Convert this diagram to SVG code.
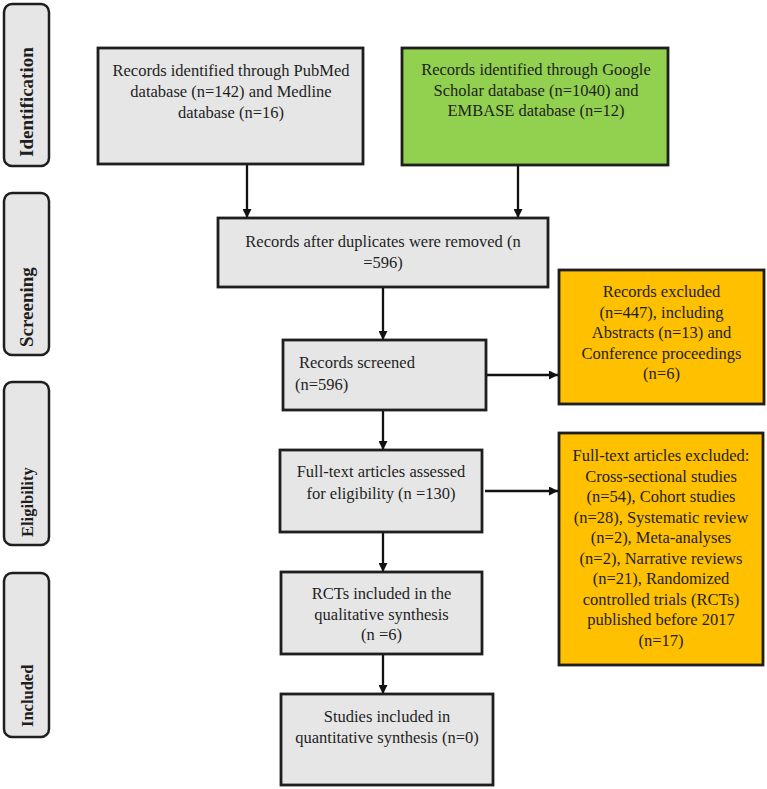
<svg xmlns="http://www.w3.org/2000/svg" width="767" height="789" viewBox="0 0 767 789">
<defs>
<style>
.box{stroke:#1e1e1e;stroke-width:2.8;}
.gray{fill:#e6e6e6;}
.green{fill:#92d050;}
.orange{fill:#ffc000;}
.tab{fill:#e6e6e6;stroke:#1e1e1e;stroke-width:2.5;}
.t{font-family:"Liberation Serif","Times New Roman",serif;font-size:16.5px;fill:#1e1e1e;text-anchor:middle;}
.tl{font-family:"Liberation Serif","Times New Roman",serif;font-size:16.5px;fill:#1e1e1e;}
.tabt{font-family:"Liberation Serif","Times New Roman",serif;font-weight:bold;fill:#1e1e1e;}
.conn{stroke:#111;stroke-width:2.3;fill:none;marker-end:url(#arr);}
</style>
<marker id="arr" viewBox="0 0 10 10" refX="10" refY="5" markerWidth="9" markerHeight="9" markerUnits="userSpaceOnUse" orient="auto">
<path d="M0,0 L10,5 L0,10 z" fill="#111"/>
</marker>
</defs>
<rect width="767" height="789" fill="#ffffff"/>

<g id="tab-identification">
<rect class="tab" x="4" y="4" width="45" height="162" rx="8"/>
<text class="tabt" font-size="19" transform="translate(33,157) rotate(-90)">Identification</text>
</g>
<g id="tab-screening">
<rect class="tab" x="4" y="193" width="45" height="162" rx="8"/>
<text class="tabt" font-size="19" transform="translate(33,347) rotate(-90)">Screening</text>
</g>
<g id="tab-eligibility">
<rect class="tab" x="4" y="382" width="45" height="163" rx="8"/>
<text class="tabt" font-size="16.5" transform="translate(33,537) rotate(-90)">Eligibility</text>
</g>
<g id="tab-included">
<rect class="tab" x="4" y="573" width="45" height="164" rx="8"/>
<text class="tabt" font-size="16.5" transform="translate(33,727) rotate(-90)">Included</text>
</g>

<g id="connectors">
<line class="conn" x1="247" y1="165" x2="247" y2="218"/>
<line class="conn" x1="518" y1="166" x2="518" y2="218"/>
<line class="conn" x1="383" y1="288" x2="383" y2="340"/>
<line class="conn" x1="383" y1="411" x2="383" y2="450"/>
<line class="conn" x1="383" y1="533" x2="383" y2="572"/>
<line class="conn" x1="383" y1="655" x2="383" y2="694"/>
<line class="conn" x1="483" y1="375" x2="558" y2="375"/>
<line class="conn" x1="485" y1="491" x2="558" y2="491"/>
</g>

<g id="pubmed">
<rect class="box gray" x="98" y="48" width="265" height="116"/>
<text class="t" x="231" y="76">Records identified through PubMed</text>
<text class="t" x="231" y="97">database (n=142) and Medline</text>
<text class="t" x="231" y="118">database (n=16)</text>
</g>
<g id="google">
<rect class="box green" x="402" y="48" width="266" height="117"/>
<text class="t" x="536" y="75">Records identified through Google</text>
<text class="t" x="536" y="96">Scholar database (n=1040) and</text>
<text class="t" x="536" y="116">EMBASE database (n=12)</text>
</g>
<g id="duplicates">
<rect class="box gray" x="218" y="218" width="330" height="69"/>
<text class="t" x="383" y="247">Records after duplicates were removed (n</text>
<text class="t" x="383" y="268">=596)</text>
</g>
<g id="screened">
<rect class="box gray" x="283" y="340" width="203" height="70"/>
<text class="tl" x="299" y="368">Records screened</text>
<text class="tl" x="295" y="390">(n=596)</text>
</g>
<g id="excluded1">
<rect class="box orange" x="559" y="270" width="205" height="134"/>
<text class="t" x="661.5" y="297">Records excluded</text>
<text class="t" x="661.5" y="317.5">(n=447), including</text>
<text class="t" x="661.5" y="338">Abstracts (n=13) and</text>
<text class="t" x="661.5" y="358.5">Conference proceedings</text>
<text class="t" x="661.5" y="379">(n=6)</text>
</g>
<g id="fulltext">
<rect class="box gray" x="280" y="450" width="202" height="82"/>
<text class="t" x="381" y="477">Full-text articles assessed</text>
<text class="t" x="381" y="499">for eligibility (n =130)</text>
</g>
<g id="excluded2">
<rect class="box orange" x="559" y="433" width="204" height="232"/>
<text class="t" x="661" y="461">Full-text articles excluded:</text>
<text class="t" x="661" y="481.5">Cross-sectional studies</text>
<text class="t" x="661" y="502">(n=54), Cohort studies</text>
<text class="t" x="661" y="522.5">(n=28), Systematic review</text>
<text class="t" x="661" y="543">(n=2), Meta-analyses</text>
<text class="t" x="661" y="563.5">(n=2), Narrative reviews</text>
<text class="t" x="661" y="584">(n=21), Randomized</text>
<text class="t" x="661" y="604.5">controlled trials (RCTs)</text>
<text class="t" x="661" y="625">published before 2017</text>
<text class="t" x="661" y="645.5">(n=17)</text>
</g>
<g id="rcts">
<rect class="box gray" x="281" y="572" width="201" height="82"/>
<text class="t" x="381.5" y="599">RCTs included in the</text>
<text class="t" x="381.5" y="620">qualitative synthesis</text>
<text class="t" x="381.5" y="640">(n =6)</text>
</g>
<g id="studies">
<rect class="box gray" x="281" y="694" width="212" height="91"/>
<text class="t" x="387" y="722">Studies included in</text>
<text class="t" x="387" y="743">quantitative synthesis (n=0)</text>
</g>
</svg>
